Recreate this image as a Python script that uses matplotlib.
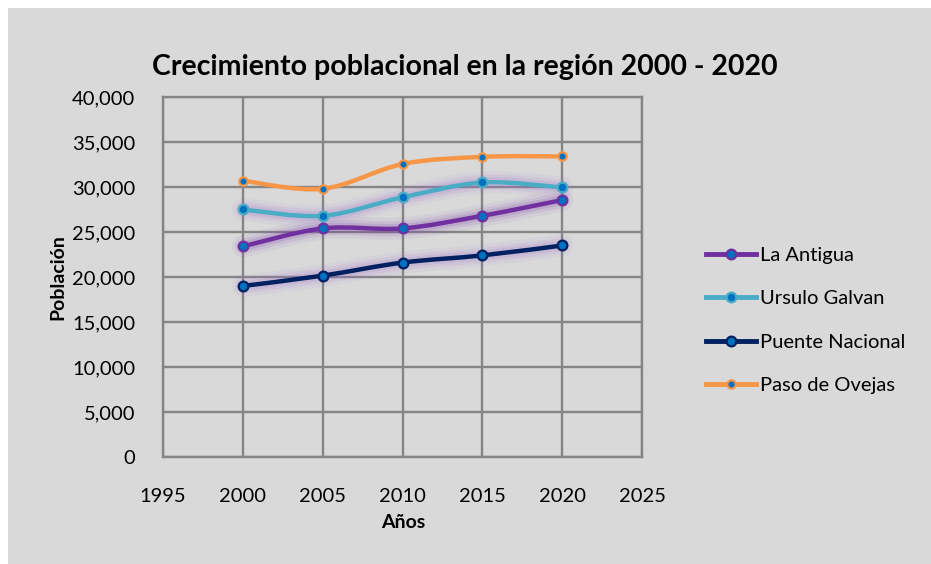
import matplotlib
matplotlib.use("Agg")
import matplotlib.pyplot as plt
import matplotlib.patheffects as pe
from matplotlib.path import Path
from matplotlib.patches import PathPatch, Rectangle
import numpy as np

plt.rcParams['font.family'] = ['Lato', 'DejaVu Sans']

years = [2000, 2005, 2010, 2015, 2020]
la_antigua = [23400, 25400, 25400, 26800, 28550]
ursulo_galvan = [27500, 26800, 28850, 30500, 29950]
puente_nacional = [19000, 20150, 21600, 22400, 23500]
paso_de_ovejas = [30700, 29800, 32550, 33350, 33400]

series = [
    ("La Antigua", la_antigua, "#7030A0", "#7B3FB0"),
    ("Ursulo Galvan", ursulo_galvan, "#4BACC6", "#A070D0"),
    ("Puente Nacional", puente_nacional, "#002060", "#A070D0"),
    ("Paso de Ovejas", paso_de_ovejas, "#F79646", None),
]

W, H = 931, 564
fig = plt.figure(figsize=(W / 100, H / 100), dpi=100)
fig.patch.set_facecolor("white")
fig.add_artist(Rectangle((8 / W, 0), 1 - 8 / W, 1 - 8 / H, transform=fig.transFigure,
                         facecolor="#D9D9D9", edgecolor="none", zorder=-10))

ax = fig.add_axes([163 / W, 1 - 457 / H, (642 - 163) / W, (457 - 97) / H])
ax.set_facecolor("#D9D9D9")
ax.set_xlim(1995, 2025)
ax.set_ylim(0, 40000)
ax.set_xticks(range(1995, 2026, 5))
ax.set_yticks(range(0, 40001, 5000))
ax.set_yticklabels([f"{v:,}" for v in range(0, 40001, 5000)])
ax.tick_params(length=0, labelsize=14.5, colors="black")
ax.tick_params(axis="y", pad=20)
ax.tick_params(axis="x", pad=22)
ax.grid(True, color="#858585", linewidth=1.7)
for s in ax.spines.values():
    s.set_color("#858585")
    s.set_linewidth(1.7)
ax.set_axisbelow(True)


def smooth_path(xs, ys):
    pts = np.column_stack([xs, ys]).astype(float)
    n = len(pts)
    verts = [pts[0]]
    codes = [Path.MOVETO]
    for i in range(n - 1):
        p0 = pts[max(i - 1, 0)]
        p1 = pts[i]
        p2 = pts[i + 1]
        p3 = pts[min(i + 2, n - 1)]
        c1 = p1 + (p2 - p0) / 6.0
        c2 = p2 - (p3 - p1) / 6.0
        verts += [c1, c2, p2]
        codes += [Path.CURVE4] * 3
    return Path(verts, codes)


handles = []
for name, vals, color, glow in series:
    effects = []
    if glow:
        effects = [pe.Stroke(linewidth=16, foreground=glow, alpha=0.07),
                   pe.Stroke(linewidth=11, foreground=glow, alpha=0.11),
                   pe.Stroke(linewidth=7, foreground=glow, alpha=0.16),
                   pe.Normal()]
    patch = PathPatch(smooth_path(years, vals), facecolor="none", edgecolor=color,
                      linewidth=3.2, capstyle="round", joinstyle="round", zorder=3)
    if effects:
        patch.set_path_effects(effects)
    ax.add_patch(patch)
    ms = 6 if glow is None else 7
    ax.plot(years, vals, linestyle="none", marker="o", markersize=ms,
            markerfacecolor="#0070C0", markeredgecolor=color, markeredgewidth=1.6, zorder=4)
    h, = ax.plot([], [], color=color, linewidth=3.5, marker="o", markersize=ms,
                 markerfacecolor="#0070C0", markeredgecolor=color, markeredgewidth=1.6)
    handles.append(h)

fig.legend(handles=handles, labels=[s[0] for s in series], loc="upper left",
           bbox_to_anchor=(688 / W, 1 - 229 / H), frameon=False, fontsize=14.5,
           handlelength=2.5, handletextpad=0.2, labelspacing=1.3)

fig.text(465 / W, 1 - 67 / H, "Crecimiento poblacional en la región 2000 - 2020",
         ha="center", va="center", fontsize=20.5, fontweight="bold")
fig.text(58 / W, 1 - 277 / H, "Población", rotation=90, ha="center", va="center",
         fontsize=14, fontweight="bold")
fig.text(403 / W, 1 - 522 / H, "Años", ha="center", va="center",
         fontsize=14, fontweight="bold")

fig.savefig("out.png", dpi=100)
